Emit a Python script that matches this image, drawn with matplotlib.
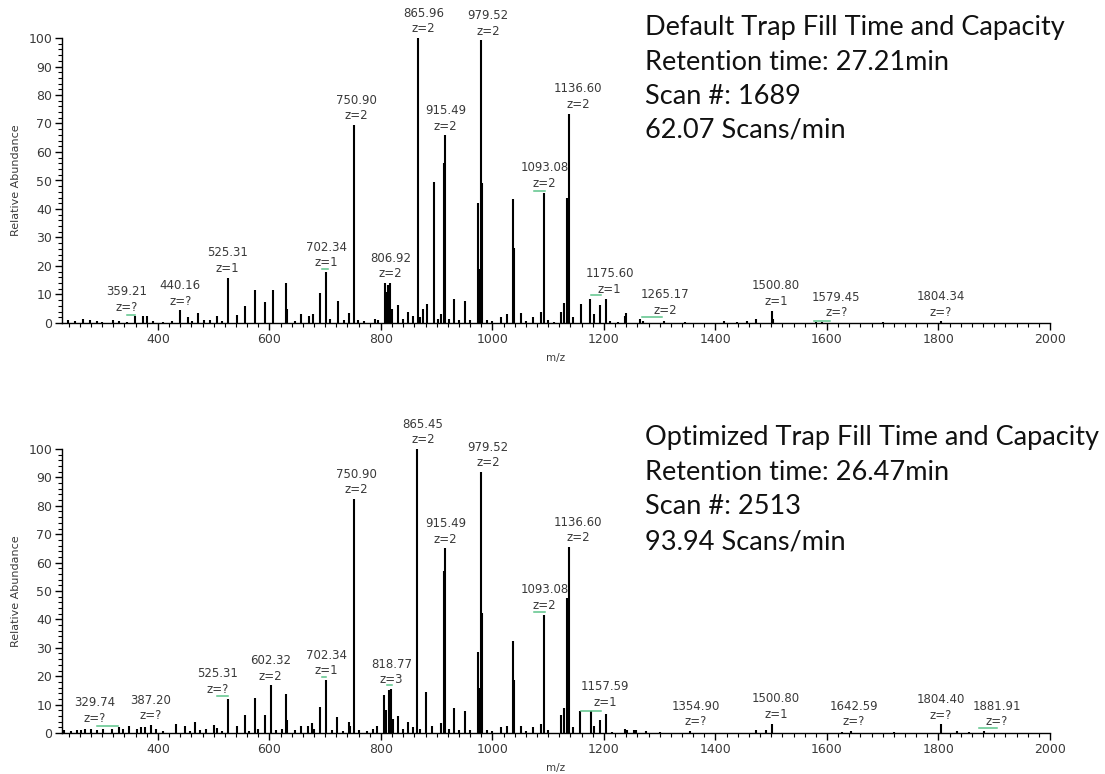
import matplotlib
matplotlib.use("Agg")
import matplotlib.pyplot as plt
from matplotlib.ticker import MultipleLocator

# ---- top spectrum: default trap fill time ----
top_mz = [238, 252, 266, 279, 290, 300, 320, 330, 345, 359.21, 374, 381, 392, 410, 425,
          440.16, 454, 462, 472, 483, 493, 506, 515, 525.31, 542, 556, 575, 592, 606,
          630, 632, 645, 657, 671, 679, 690, 702.34, 708, 723, 733, 743, 750.90, 758,
          770, 788.5, 795, 806.92, 809.5, 813.5, 816.5, 820, 830, 840, 848, 857, 865.96,
          870, 875, 882, 894.6, 903, 907.7, 912.5, 915.49, 922, 931.5, 940, 950.6, 960,
          975, 977, 979.52, 981.5, 990, 1000, 1015, 1027, 1036.8, 1038.5, 1051, 1060,
          1072, 1087, 1093.08, 1100, 1110, 1123.5, 1127.7, 1133.6, 1136.60, 1144, 1158,
          1175.60, 1183, 1193, 1204, 1210, 1225, 1237, 1239, 1265.17, 1270, 1308, 1345,
          1415, 1439, 1457, 1472, 1500.80, 1503, 1579.45, 1591, 1700, 1804.34]
top_int = [1.0, 0.6, 1.5, 1.2, 0.8, 0.5, 1.2, 0.6, 0.5, 2.3, 2.5, 2.5, 0.8, 0.5, 0.7,
           4.4, 2.0, 0.8, 3.5, 1.0, 1.2, 2.5, 0.8, 15.9, 2.7, 5.8, 11.5, 7.3, 11.5,
           14.0, 5.0, 0.8, 3.0, 2.5, 3.0, 10.6, 17.9, 1.5, 7.7, 1.0, 3.5, 69.4, 1.0,
           0.7, 1.5, 1.0, 14.0, 11.0, 13.5, 14.0, 5.0, 6.2, 1.5, 4.0, 2.5, 100.0,
           2.0, 5.0, 6.8, 49.5, 1.5, 3.0, 56.0, 65.8, 1.5, 8.3, 1.0, 7.6, 1.0,
           42.0, 19.0, 99.2, 49.0, 1.0, 0.7, 2.0, 3.0, 43.6, 26.4, 3.5, 0.6,
           2.0, 4.0, 45.7, 1.0, 0.5, 4.0, 7.0, 44.0, 73.5, 2.0, 6.5,
           8.5, 3.0, 6.2, 8.3, 0.8, 0.5, 2.5, 3.5, 1.3, 0.8, 0.8, 0.4,
           0.8, 0.5, 0.6, 1.5, 4.3, 1.5, 0.4, 0.3, 0.3, 0.6]

top_lab_mz = [359.21, 440.16, 525.31, 702.34, 750.90, 806.92, 865.96, 915.49, 979.52,
              1093.08, 1136.60, 1175.60, 1265.17, 1500.80, 1579.45, 1804.34]
top_lab_int = [2.3, 4.4, 15.9, 17.9, 69.4, 14.0, 100.0, 65.8, 99.2,
               45.7, 73.5, 8.5, 1.3, 4.3, 0.4, 0.6]
top_lab_z = ["?", "?", "1", "1", "2", "2", "2", "2", "2", "2", "2", "1", "2", "1", "?", "?"]
# horizontal nudge of each label (points), to keep them clear of neighbours
top_lab_dx = [-6, 0, 0, 0, 2, 4, 4, 0, 5, 0, 7, 14, 18, 3, 15, 0]

# green isotope-envelope marks (start m/z, end m/z, height)
top_env_start = [345, 695, 1074, 1176, 1268, 1576]
top_env_end = [359, 705, 1094, 1194, 1304, 1606]
top_env_h = [2.9, 19.0, 46.4, 9.7, 2.0, 0.6]

# ---- bottom spectrum: optimized trap fill time ----
bot_mz = [230.9, 245, 255, 262, 270, 280, 290, 302, 317, 329.74, 338, 349, 362, 369, 377,
          387.20, 396, 410, 433, 448, 458, 466, 476, 487, 500, 506, 515, 525.31, 542, 556,
          563, 575, 579, 592, 602.32, 612, 622, 630, 632, 645, 657, 670, 677, 680, 690,
          702.34, 712, 722, 732, 743, 745, 750.90, 760, 775, 785, 793, 806, 809, 814,
          818.77, 822, 830, 840, 848, 857, 865.45, 870, 880, 892, 907, 912.5, 915.49, 922,
          931, 940, 950, 960, 975, 977, 979.52, 981.5, 990, 1000, 1015, 1027, 1037, 1038.5,
          1051, 1060, 1072, 1087, 1093.08, 1100, 1123.5, 1127.7, 1133.6, 1136.60, 1144,
          1157.59, 1176, 1183, 1193, 1204, 1215, 1237, 1242, 1253, 1257, 1275, 1300,
          1354.90, 1472, 1490, 1500.80, 1627, 1642.59, 1720, 1804.40, 1833, 1854, 1881.91]
bot_int = [1.0, 0.8, 1.2, 1.0, 1.3, 1.5, 1.0, 1.5, 1.5, 2.0, 1.3, 2.5, 1.5, 2.0, 2.2,
           2.8, 1.5, 0.6, 3.2, 2.5, 0.8, 3.7, 1.0, 1.5, 2.8, 1.8, 0.7, 12.1, 2.5, 6.2,
           0.8, 12.5, 1.5, 6.2, 16.8, 1.0, 1.5, 13.6, 4.5, 1.0, 2.5, 2.5, 3.5, 1.5, 9.2,
           18.6, 1.0, 5.6, 0.8, 3.8, 2.5, 82.4, 1.0, 0.6, 1.5, 2.5, 13.5, 8.0, 15.0,
           15.5, 5.0, 6.1, 1.5, 4.0, 2.0, 100.0, 1.5, 14.3, 2.5, 3.5, 57.0, 65.0, 1.5,
           8.8, 1.0, 7.6, 1.0, 28.5, 15.8, 91.9, 42.3, 1.0, 0.7, 2.0, 2.5, 32.5, 18.8,
           2.5, 0.7, 2.0, 3.3, 41.7, 1.0, 6.5, 8.8, 47.5, 65.5, 2.0,
           7.6, 7.6, 2.5, 4.7, 6.8, 0.5, 1.5, 1.2, 1.2, 1.2, 0.6, 0.4,
           0.7, 1.2, 0.9, 3.3, 0.5, 0.7, 0.3, 3.0, 0.7, 0.5, 0.7]

bot_lab_mz = [329.74, 387.20, 525.31, 602.32, 702.34, 750.90, 818.77, 865.45, 915.49,
              979.52, 1093.08, 1136.60, 1157.59, 1354.90, 1500.80, 1642.59, 1804.40, 1881.91]
bot_lab_int = [2.0, 2.8, 12.1, 16.8, 18.6, 82.4, 15.5, 100.0, 65.0,
               91.9, 41.7, 65.5, 7.6, 0.7, 3.3, 0.7, 3.0, 0.7]
bot_lab_z = ["?", "?", "?", "2", "1", "2", "3", "2", "2", "2", "2", "2", "1", "?", "1", "?", "?", "?"]
bot_lab_dx = [-17, 0, -7, 0, 0, 2, 0, 4, 0, 5, 0, 7, 18, 4, 3, 2, 0, 9]

bot_env_start = [290, 506, 694, 811, 1075, 1158, 1873]
bot_env_end = [328, 525, 702, 819, 1095, 1195, 1905]
bot_env_h = [2.6, 13.0, 19.8, 16.8, 42.5, 7.9, 1.8]

top_info = ["Default Trap Fill Time and Capacity", "Retention time: 27.21min",
            "Scan #: 1689", "62.07 Scans/min"]
bot_info = ["Optimized Trap Fill Time and Capacity", "Retention time: 26.47min",
            "Scan #: 2513", "93.94 Scans/min"]

W, H = 1105, 774
fig = plt.figure(figsize=(W / 100, H / 100), dpi=100)
fig.patch.set_facecolor("white")

grey = "#3a3a3a"


def draw_spectrum(ax, mz, inten, lab_mz, lab_int, lab_z, lab_dx, env_s, env_e, env_h):
    ax.vlines(mz, 0, inten, colors="black", linewidth=1.5)
    for s, e, h in zip(env_s, env_e, env_h):
        ax.plot([s, e], [h, h], color="#5cc48a", linewidth=1.1)
    for m, h, z, dx in zip(lab_mz, lab_int, lab_z, lab_dx):
        ax.annotate(f"{m:.2f}\nz={z}", xy=(m, h), xytext=(dx, 2),
                    textcoords="offset points", ha="center", va="bottom",
                    fontsize=8.5, color=grey, linespacing=1.25)
    ax.set_xlim(228, 2000)
    ax.set_ylim(0, 100)
    for side in ["top", "right"]:
        ax.spines[side].set_visible(False)
    ax.spines["left"].set_linewidth(1.0)
    ax.spines["bottom"].set_linewidth(1.0)
    ax.xaxis.set_major_locator(MultipleLocator(200))
    ax.xaxis.set_minor_locator(MultipleLocator(20))
    ax.yaxis.set_major_locator(MultipleLocator(10))
    ax.yaxis.set_minor_locator(MultipleLocator(2))
    ax.tick_params(which="major", length=5, width=1, labelsize=9, labelcolor=grey, pad=2)
    ax.tick_params(which="minor", length=3, width=0.8)
    ax.set_xlabel("m/z", fontsize=7.5, color=grey, labelpad=5)
    ax.set_ylabel("Relative Abundance", fontsize=8, color=grey, labelpad=5)


left = 62 / W
width = (1050 - 62) / W
ax1 = fig.add_axes([left, 1 - 323 / H, width, 285 / H])
ax2 = fig.add_axes([left, 1 - 733 / H, width, 284 / H])

draw_spectrum(ax1, top_mz, top_int, top_lab_mz, top_lab_int, top_lab_z, top_lab_dx,
              top_env_start, top_env_end, top_env_h)
draw_spectrum(ax2, bot_mz, bot_int, bot_lab_mz, bot_lab_int, bot_lab_z, bot_lab_dx,
              bot_env_start, bot_env_end, bot_env_h)

for i, line in enumerate(top_info):
    fig.text(645 / W, 1 - (28 + 34 * i) / H, line, fontsize=19.5, family="Lato",
             color="#111111", va="center", ha="left")
for i, line in enumerate(bot_info):
    fig.text(645 / W, 1 - (437 + 35 * i) / H, line, fontsize=19.5, family="Lato",
             color="#111111", va="center", ha="left")

fig.savefig("out.png", dpi=100)
